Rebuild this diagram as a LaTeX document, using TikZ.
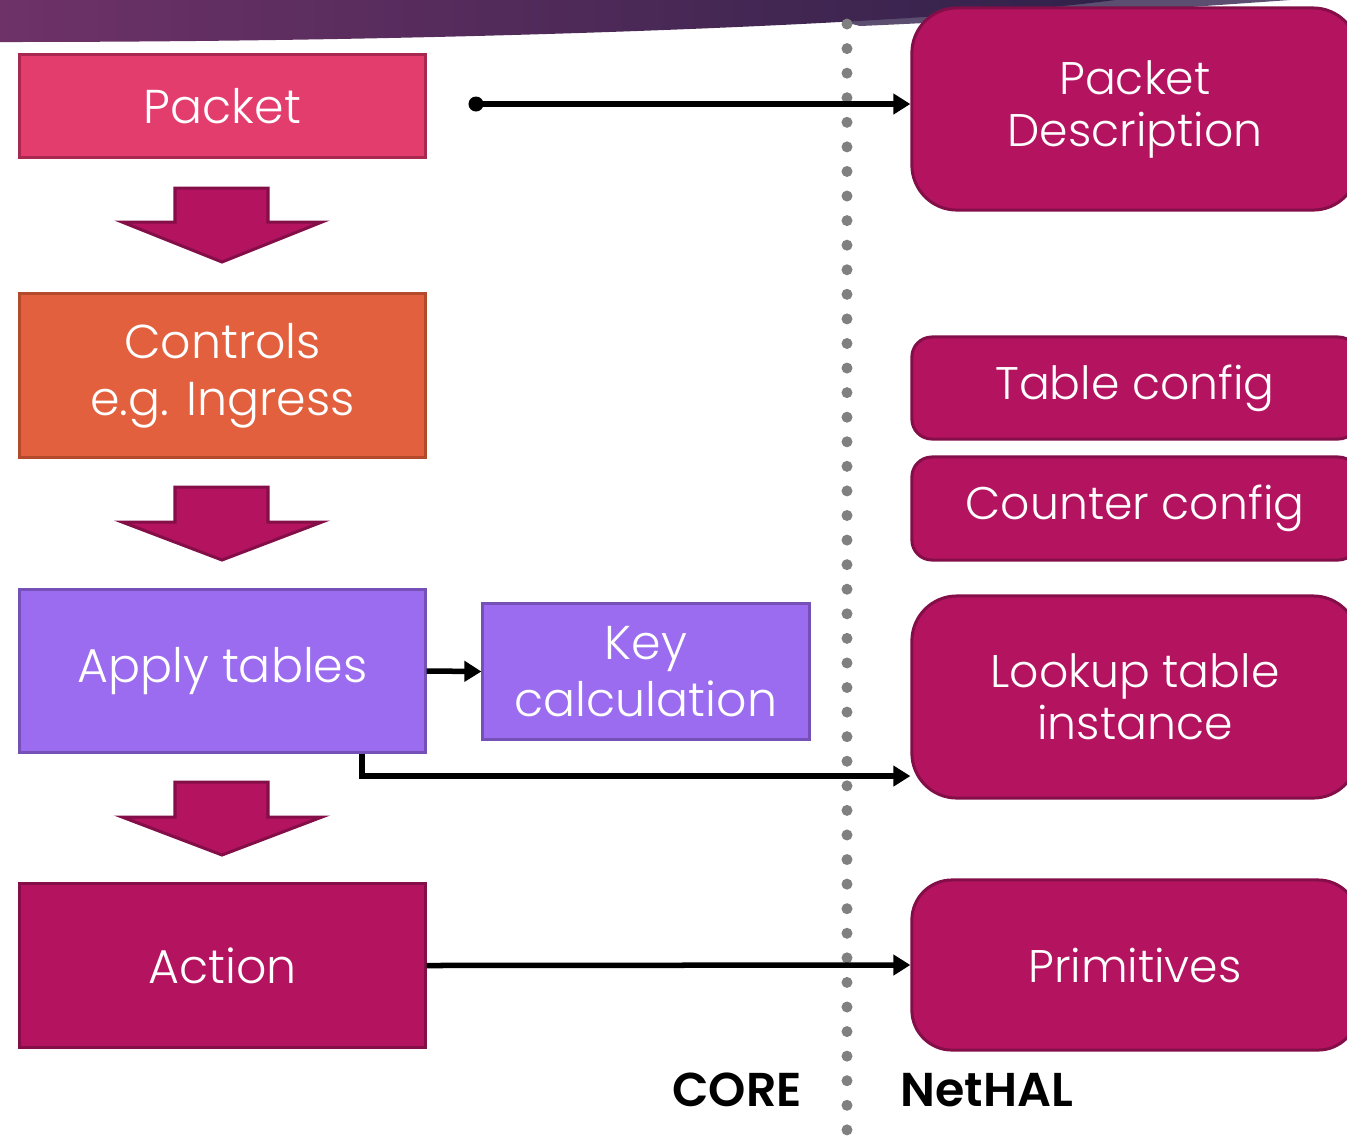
\documentclass[tikz,border=0pt]{standalone}
\usepackage{fontspec}
\setmainfont{Poppins}[UprightFont=* Light,BoldFont=* SemiBold]
\usetikzlibrary{arrows.meta}

\definecolor{bannerL}{RGB}{110,50,104}
\definecolor{bannerR}{RGB}{48,34,74}
\definecolor{bannerlip}{RGB}{92,78,112}
\definecolor{pktfill}{RGB}{226,61,109}
\definecolor{pktline}{RGB}{168,40,80}
\definecolor{ctlfill}{RGB}{226,96,62}
\definecolor{ctlline}{RGB}{180,74,44}
\definecolor{tblfill}{RGB}{155,108,239}
\definecolor{tblline}{RGB}{117,80,182}
\definecolor{halfill}{RGB}{180,19,96}
\definecolor{halline}{RGB}{132,14,72}
\definecolor{dotgray}{RGB}{128,128,128}

\tikzset{
    lbox/.style={draw, line width=0.03cm, text=white, align=center,
        minimum width=4.05cm, font=\fontsize{13.5}{16.2}\selectfont},
    rbox/.style={draw=halline, fill=halfill, line width=0.03cm, text=white,
        align=center, minimum width=4.46cm, font=\fontsize{13}{14.8}\selectfont},
    conn/.style={line width=0.055cm, -{Triangle[length=0.17cm,width=0.2cm]}},
    bigarrow/.style={fill=halfill, draw=halline, line width=0.03cm, line join=miter},
    dotline/.style={dotgray, line width=0.11cm, line cap=round, dash pattern=on 0pt off 0.2456cm},
    sidelbl/.style={font=\fontsize{13.5}{16}\selectfont\bfseries}
}

\begin{document}
\begin{tikzpicture}[x=0.01cm,y=-0.01cm]
    \useasboundingbox (0,0) rectangle (1347,1135);
    \clip (0,0) rectangle (1347,1135);

    % banner across the top
    \fill[bannerlip] (760,0) -- (1290,0) .. controls (1150,10) and (1000,20) .. (860,26) -- cycle;
    \shade[left color=bannerL, right color=bannerR]
        (0,0) -- (1115,0) .. controls (950,22) and (500,42) .. (0,42) -- cycle;

    % separator between the two sides
    \draw[dotline] (847,24) -- (847,1130);

    % left column
    \node[lbox, fill=pktfill, draw=pktline, minimum height=1.02cm] (packet) at (222.5,106) {Packet};
    \node[lbox, fill=ctlfill, draw=ctlline, minimum height=1.63cm] (controls) at (222.5,375.5) {Controls\\e.g. Ingress};
    \node[lbox, fill=tblfill, draw=tblline, minimum height=1.62cm] (apply) at (222.5,671) {Apply tables};
    \node[lbox, fill=tblfill, draw=tblline, minimum width=3.26cm, minimum height=1.35cm] (key) at (646,671.5) {Key\\calculation};
    \node[lbox, fill=halfill, draw=halline, minimum height=1.63cm] (action) at (222.5,965.5) {Action};

    \filldraw[bigarrow] (175,188) -- (268,188) -- (268,222) -- (322,222) -- (222,262) -- (122,222) -- (175,222) -- cycle;
    \filldraw[bigarrow] (175,487) -- (268,487) -- (268,522) -- (322,522) -- (222,560) -- (122,522) -- (175,522) -- cycle;
    \filldraw[bigarrow] (175,782) -- (268,782) -- (268,817) -- (322,817) -- (222,855) -- (122,817) -- (175,817) -- cycle;

    % right column
    \node[rbox, rounded corners=0.45cm, minimum height=2.02cm] (desc) at (1135,109) {Packet\\Description};
    \node[rbox, rounded corners=0.2cm, minimum height=1.02cm] (tablecfg) at (1135,388) {Table config};
    \node[rbox, rounded corners=0.2cm, minimum height=1.03cm] (countercfg) at (1135,508.5) {Counter config};
    \node[rbox, rounded corners=0.45cm, minimum height=2.02cm] (lookup) at (1135,697) {Lookup table\\instance};
    \node[rbox, rounded corners=0.4cm, minimum height=1.7cm] (prims) at (1135,965) {Primitives};

    % connectors
    \coordinate (pktsrc) at (476,104);
    \fill (pktsrc) circle (0.075cm);
    \draw[conn] (pktsrc) -- (pktsrc -| desc.west);
    \draw[conn] (apply.east) -- (key.west);
    \draw[conn] ([xshift=1.395cm]apply.south) |- ([yshift=-0.79cm]lookup.west);
    \draw[conn] (action.east) -- (prims.west);

    \node[sidelbl] (corelbl) at (737,1090) {CORE};
    \node[sidelbl] (hallbl) at (987,1090) {NetHAL};
\end{tikzpicture}
\end{document}
